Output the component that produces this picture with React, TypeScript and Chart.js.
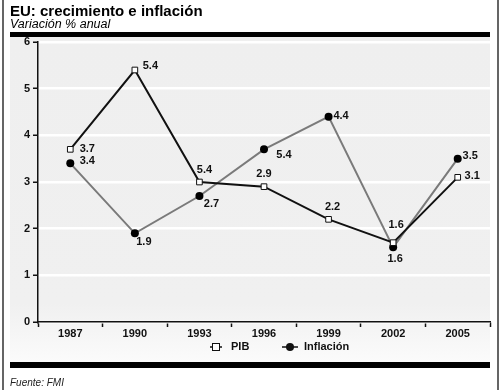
import React, { useEffect, useRef } from "react";
import { Chart, registerables } from "chart.js";

Chart.register(...registerables);

const years = ["1987", "1990", "1993", "1996", "1999", "2002", "2005"];
const pib = [3.7, 5.4, 3.0, 2.9, 2.2, 1.7, 3.1];
const inflacion = [3.4, 1.9, 2.7, 3.7, 4.4, 1.6, 3.5];
const pibLabels = ["3.7", "5.4", "5.4", "2.9", "2.2", "1.6", "3.1"];
const inflacionLabels = ["3.4", "1.9", "2.7", "5.4", "4.4", "1.6", "3.5"];
const yTicks = [0, 1, 2, 3, 4, 5, 6];

const title = "EU: crecimiento e inflación";
const subtitle = "Variación % anual";
const source = "Fuente: FMI";

const FONT = "'Liberation Sans', Arial, Helvetica, sans-serif";

const frame = {
  id: "frame",
  beforeDraw(chart: any) {
    const ctx = chart.ctx;
    ctx.save();
    ctx.fillStyle = "#ffffff";
    ctx.fillRect(0, 0, 500, 390);
    const g = ctx.createLinearGradient(0, 37, 0, 362);
    g.addColorStop(0, "#efefef");
    g.addColorStop(0.82, "#f0f0f0");
    g.addColorStop(1, "#fbfbfb");
    ctx.fillStyle = g;
    ctx.fillRect(10, 37, 480, 325);
    ctx.fillStyle = "#000000";
    ctx.fillRect(10, 32, 480, 5);
    ctx.fillRect(10, 362, 480, 6);
    ctx.strokeStyle = "#333333";
    ctx.lineWidth = 1.5;
    ctx.beginPath();
    ctx.moveTo(3, 0);
    ctx.lineTo(3, 390);
    ctx.moveTo(498, 0);
    ctx.lineTo(498, 390);
    ctx.stroke();
    ctx.fillStyle = "#000000";
    ctx.textAlign = "left";
    ctx.textBaseline = "alphabetic";
    ctx.font = `bold 15px ${FONT}`;
    ctx.fillText(title, 10, 16);
    ctx.font = `italic 12.5px ${FONT}`;
    ctx.fillText(subtitle, 10, 28);
    ctx.font = `italic 10px ${FONT}`;
    ctx.fillStyle = "#222222";
    ctx.fillText(source, 10, 386);
    ctx.restore();
  },
};

const labelsPlugin = {
  id: "pointLabels",
  afterDatasetsDraw(chart: any, _args: any, opts: any) {
    const ctx = chart.ctx;
    ctx.save();
    ctx.font = `bold 11px ${FONT}`;
    ctx.fillStyle = "#111111";
    ctx.textAlign = "center";
    ctx.textBaseline = "middle";
    chart.data.datasets.forEach((ds: any, di: number) => {
      const meta = chart.getDatasetMeta(di);
      const offs = opts.offsets[di];
      meta.data.forEach((pt: any, i: number) => {
        const [dx, dy] = offs[i];
        ctx.fillText(ds.pointLabels[i], pt.x + dx, pt.y + dy);
      });
    });
    ctx.restore();
  },
};

const legendPlugin = {
  id: "customLegend",
  afterDraw(chart: any) {
    const ctx = chart.ctx;
    ctx.save();
    const y = 347;
    ctx.font = `bold 11px ${FONT}`;
    ctx.textBaseline = "middle";
    ctx.textAlign = "left";
    ctx.strokeStyle = "#111111";
    ctx.lineWidth = 1.5;
    ctx.beginPath();
    ctx.moveTo(210, y);
    ctx.lineTo(222, y);
    ctx.stroke();
    ctx.fillStyle = "#ffffff";
    ctx.fillRect(212.5, y - 3.5, 7, 7);
    ctx.lineWidth = 1;
    ctx.strokeRect(212.5, y - 3.5, 7, 7);
    ctx.fillStyle = "#111111";
    ctx.fillText("PIB", 231, y);
    ctx.lineWidth = 1.5;
    ctx.beginPath();
    ctx.moveTo(282, y);
    ctx.lineTo(298, y);
    ctx.stroke();
    ctx.beginPath();
    ctx.arc(290, y, 4, 0, Math.PI * 2);
    ctx.fill();
    ctx.fillText("Inflación", 304, y);
    ctx.restore();
  },
};

export default function App() {
  const ref = useRef<HTMLCanvasElement>(null);
  useEffect(() => {
    if (!ref.current) return;
    const chart = new Chart(ref.current, {
      type: "line",
      data: {
        labels: years,
        datasets: [
          {
            label: "PIB",
            data: pib,
            pointLabels: pibLabels,
            borderColor: "#111111",
            borderWidth: 2,
            pointStyle: "rect",
            pointRadius: 4,
            pointBackgroundColor: "#ffffff",
            pointBorderColor: "#111111",
            pointBorderWidth: 1,
            tension: 0,
          } as any,
          {
            label: "Inflación",
            data: inflacion,
            pointLabels: inflacionLabels,
            borderColor: "#7a7a7a",
            borderWidth: 2,
            pointStyle: "circle",
            pointRadius: 4,
            pointBackgroundColor: "#000000",
            pointBorderColor: "#000000",
            pointBorderWidth: 0,
            tension: 0,
          } as any,
        ],
      },
      options: {
        responsive: false,
        animation: false,
        events: [],
        layout: { padding: { left: 8, right: 10, top: 42, bottom: 50 } },
        plugins: {
          legend: { display: false },
          tooltip: { enabled: false },
          pointLabels: {
            offsets: [
              [[17, 0], [15.5, -4], [5, -12], [0, -13], [4, -12], [3, -18], [14.5, -1]],
              [[17, -2], [9, 9], [12, 8], [20, 6], [12.5, -1], [2, 12], [12.5, -3]],
            ],
          },
        } as any,
        scales: {
          x: {
            offset: true,
            grid: {
              offset: true,
              drawOnChartArea: false,
              tickLength: 5,
              tickColor: "#111111",
              tickWidth: 1.5,
            },
            border: { color: "#111111", width: 1.5 },
            ticks: {
              color: "#111111",
              font: { family: FONT, size: 11, weight: "bold" },
              padding: 0,
              maxRotation: 0,
            },
            afterFit(scale: any) {
              scale.height = 18;
            },
          },
          y: {
            min: 0,
            max: 6,
            afterBuildTicks(scale: any) {
              scale.ticks = yTicks.map((v) => ({ value: v }));
            },
            grid: {
              color: "#ffffff",
              lineWidth: 2.5,
              tickLength: 5,
              tickColor: "#111111",
              tickWidth: 1.5,
            },
            border: { color: "#111111", width: 1.5 },
            ticks: {
              color: "#111111",
              font: { family: FONT, size: 11, weight: "bold" },
              padding: 3,
            },
            afterFit(scale: any) {
              scale.width = 30;
            },
          },
        },
      },
      plugins: [frame, labelsPlugin, legendPlugin],
    });
    return () => chart.destroy();
  }, []);
  return (
    <div style={{ position: "absolute", left: 0, top: 0, width: 500, height: 390 }}>
      <canvas ref={ref} width={500} height={390} style={{ width: 500, height: 390 }} />
    </div>
  );
}
